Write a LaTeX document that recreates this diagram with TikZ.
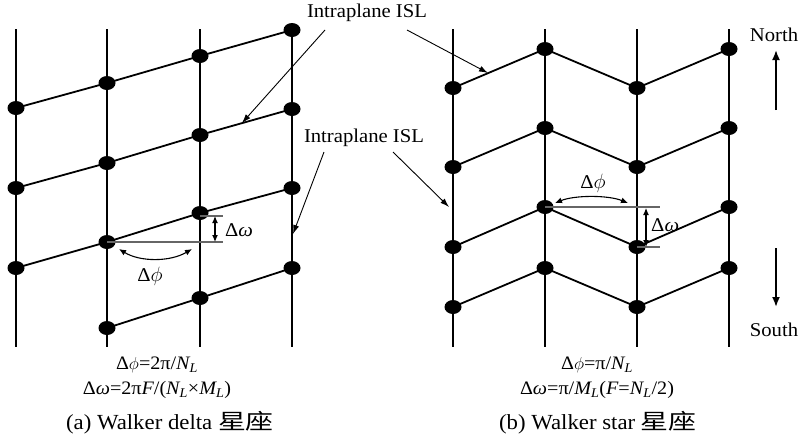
\documentclass[tikz,border=0pt]{standalone}
\usepackage{fontspec}
\setmainfont{Liberation Serif}[FakeStretch=1.06]
\newfontfamily\cjk{Noto Sans CJK SC}[FakeStretch=1.3]
\usetikzlibrary{arrows.meta,shapes.geometric}
\newcommand\lsub[1]{\textsubscript{\itshape #1}}
\newcommand\dphi{Δ$\phi$}
\begin{document}
\begin{tikzpicture}[x=1pt,y=-1pt,
  plane/.style={line width=2.4pt},
  isl/.style={line width=1.8pt},
  sat/.style={ellipse,fill=black,inner sep=0pt,minimum width=17pt,minimum height=14pt},
  pointer/.style={line width=0.9pt,-{Latex[length=9pt,width=6pt]}},
  guide/.style={line width=1.1pt,black!60},
  dbl/.style={line width=1.1pt,{Latex[length=7pt,width=6pt]}-{Latex[length=7pt,width=6pt]}},
  dirarrow/.style={line width=1.8pt,-{Latex[length=10pt,width=8pt]}},
  lbl/.style={font=\fontsize{19.5}{21}\selectfont,inner sep=0pt},
  frm/.style={font=\fontsize{19}{21}\selectfont,inner sep=0pt},
  captext/.style={font=\fontsize{21.5}{23}\selectfont,inner sep=0pt}]
\useasboundingbox (0,0) rectangle (800,445);

% ---------- left panel (Walker delta) ----------
\foreach \n/\x in {a/16,b/107,c/200,d/292}{
  \coordinate (LT\n) at (\x,29);
  \coordinate (LB\n) at (\x,347);
  \draw[plane] (LT\n) -- (LB\n);
}
\coordinate (L1a) at (16,108);  \coordinate (L1b) at (107,83);  \coordinate (L1c) at (200,56);  \coordinate (L1d) at (292,30);
\coordinate (L2a) at (16,188);  \coordinate (L2b) at (107,163); \coordinate (L2c) at (200,135); \coordinate (L2d) at (292,109);
\coordinate (L3a) at (16,268);  \coordinate (L3b) at (107,242); \coordinate (L3c) at (200,213); \coordinate (L3d) at (292,188);
\coordinate (L4b) at (107,328); \coordinate (L4c) at (200,298); \coordinate (L4d) at (292,268);
\draw[isl] (L1a) -- (L1b) -- (L1c) -- (L1d);
\draw[isl] (L2a) -- (L2b) -- (L2c) -- (L2d);
\draw[isl] (L3a) -- (L3b) -- (L3c) -- (L3d);
\draw[isl] (L4b) -- (L4c) -- (L4d);
\foreach \p in {L1a,L1b,L1c,L1d,L2a,L2b,L2c,L2d,L3a,L3b,L3c,L3d,L4b,L4c,L4d}
  \node[sat] at (\p) {};

% delta omega / delta phi (left)
\coordinate (LgE) at (223,242);
\coordinate (LtS) at (200,216); \coordinate (LtE) at (223,216);
\draw[guide] (L3b) -- (LgE);
\draw[guide] (LtS) -- (LtE);
\coordinate (LdwT) at (215,216); \coordinate (LdwB) at (215,242);
\draw[dbl] (LdwT) -- (LdwB);
\node[lbl,anchor=west] (Ldw) at (225,230) {Δ{\itshape ω}};
\coordinate (LarcS) at (119,249); \coordinate (LarcE) at (192,249);
\draw[dbl] (LarcS) .. controls (140,262) and (170,262) .. (LarcE);
\node[lbl] (Ldp) at (150,276) {\dphi};

% ---------- right panel (Walker star) ----------
\foreach \n/\x in {a/453,b/545,c/637,d/729}{
  \coordinate (RT\n) at (\x,29);
  \coordinate (RB\n) at (\x,347);
  \draw[plane] (RT\n) -- (RB\n);
}
\coordinate (R1a) at (453,88);  \coordinate (R1b) at (545,49);  \coordinate (R1c) at (637,88);  \coordinate (R1d) at (729,49);
\coordinate (R2a) at (453,167); \coordinate (R2b) at (545,128); \coordinate (R2c) at (637,167); \coordinate (R2d) at (729,128);
\coordinate (R3a) at (453,247); \coordinate (R3b) at (545,207); \coordinate (R3c) at (637,247); \coordinate (R3d) at (729,207);
\coordinate (R4a) at (453,307); \coordinate (R4b) at (545,268); \coordinate (R4c) at (637,307); \coordinate (R4d) at (729,268);
\foreach \r in {1,2,3,4}
  \draw[isl] (R\r a) -- (R\r b) -- (R\r c) -- (R\r d);
\foreach \p in {R1a,R1b,R1c,R1d,R2a,R2b,R2c,R2d,R3a,R3b,R3c,R3d,R4a,R4b,R4c,R4d}
  \node[sat] at (\p) {};

% delta omega / delta phi (right)
\coordinate (RgE) at (660,207);
\coordinate (RtS) at (637,247); \coordinate (RtE) at (660,247);
\draw[guide] (R3b) -- (RgE);
\draw[guide] (RtS) -- (RtE);
\coordinate (RdwT) at (646,208); \coordinate (RdwB) at (646,247);
\draw[dbl] (RdwT) -- (RdwB);
\node[lbl,anchor=west] (Rdw) at (651,225) {Δ{\itshape ω}};
\coordinate (RarcS) at (555,203); \coordinate (RarcE) at (628,203);
\draw[dbl] (RarcS) .. controls (575,195) and (608,195) .. (RarcE);
\node[lbl] (Rdp) at (593,183) {\dphi};

% ---------- ISL labels ----------
\node[lbl] (isl1) at (367,13) {Intraplane ISL};
\node[lbl] (isl2) at (364,138) {Intraplane ISL};
\coordinate (a1s) at (325,30);  \coordinate (a1e) at (242,123);
\coordinate (a2s) at (407,30);  \coordinate (a2e) at (488,73);
\coordinate (a3s) at (324,152); \coordinate (a3e) at (293,234);
\coordinate (a4s) at (393,152); \coordinate (a4e) at (449,207);
\draw[pointer] (a1s) -- (a1e);
\draw[pointer] (a2s) -- (a2e);
\draw[pointer] (a3s) -- (a3e);
\draw[pointer] (a4s) -- (a4e);

% ---------- North / South ----------
\node[lbl] (north) at (774,35) {North};
\coordinate (nS) at (776,110); \coordinate (nE) at (776,50);
\draw[dirarrow] (nS) -- (nE);
\node[lbl] (south) at (774,330) {South};
\coordinate (sS) at (776,248); \coordinate (sE) at (776,307);
\draw[dirarrow] (sS) -- (sE);

% ---------- formulas and captions ----------
\node[frm] (fa1) at (157,365) {\dphi=2π/{\itshape N}\lsub{L}};
\node[frm] (fa2) at (157,390) {Δ{\itshape ω}=2π{\itshape F}/({\itshape N}\lsub{L}×{\itshape M}\lsub{L})};
\node[captext] (capa) at (170,423) {(a) Walker delta {\cjk 星座}};
\node[frm] (fb1) at (597,365) {\dphi=π/{\itshape N}\lsub{L}};
\node[frm] (fb2) at (597,390) {Δ{\itshape ω}=π/{\itshape M}\lsub{L}({\itshape F}={\itshape N}\lsub{L}/2)};
\node[captext] (capb) at (598,423) {(b) Walker star {\cjk 星座}};
\end{tikzpicture}
\end{document}
